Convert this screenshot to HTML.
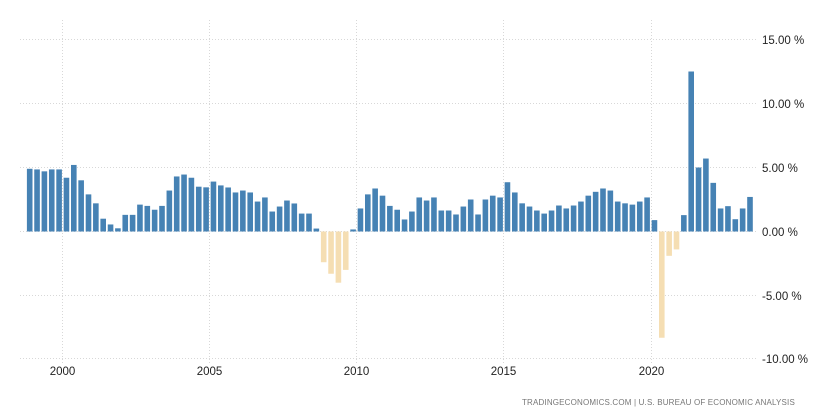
<!DOCTYPE html>
<html><head><meta charset="utf-8"><style>
html,body{margin:0;padding:0;background:#fff;}
svg{display:block;font-family:"Liberation Sans",Arial,sans-serif;}
</style></head><body>
<svg id="c" width="824" height="415" viewBox="0 0 824 415">
<g stroke="#d8d8d8" stroke-width="1" stroke-dasharray="1,2" fill="none">
<line x1="20" y1="39.5" x2="757" y2="39.5"/>
<line x1="20" y1="103.5" x2="757" y2="103.5"/>
<line x1="20" y1="167.5" x2="757" y2="167.5"/>
<line x1="20" y1="231.5" x2="757" y2="231.5"/>
<line x1="20" y1="295.5" x2="757" y2="295.5"/>
<line x1="20" y1="358.5" x2="757" y2="358.5"/>
<line x1="62.5" y1="20" x2="62.5" y2="365"/>
<line x1="209.5" y1="20" x2="209.5" y2="365"/>
<line x1="356.5" y1="20" x2="356.5" y2="365"/>
<line x1="503.5" y1="20" x2="503.5" y2="365"/>
<line x1="651.5" y1="20" x2="651.5" y2="365"/>
</g>
<g id="bars"></g>
<g fill="#222" font-size="11.5">
<text x="762" y="44">15.00 %</text>
<text x="762" y="108">10.00 %</text>
<text x="762" y="172">5.00 %</text>
<text x="762" y="236">0.00 %</text>
<text x="762" y="300">-5.00 %</text>
<text x="762" y="363">-10.00 %</text>
</g>
<g fill="#222" font-size="11.5" text-anchor="middle">
<text x="62.5" y="375">2000</text>
<text x="209.5" y="375">2005</text>
<text x="356.5" y="375">2010</text>
<text x="503.5" y="375">2015</text>
<text x="651.5" y="375">2020</text>
</g>
<text x="795" y="405" text-anchor="end" fill="#777" font-size="8" letter-spacing="0.2" textLength="273" lengthAdjust="spacing">TRADINGECONOMICS.COM | U.S. BUREAU OF ECONOMIC ANALYSIS</text>
</svg>
<script>
var v=[4.9,4.85,4.7,4.85,4.85,4.2,5.2,4.0,2.9,2.2,1.0,0.55,0.25,1.3,1.3,2.1,2.0,1.7,2.0,3.2,4.3,4.45,4.2,3.5,3.45,
3.9,3.6,3.44,3.05,3.2,3.05,2.34,2.66,1.56,1.95,2.42,2.19,1.4,1.4,0.23,-2.4,-3.3,-4.0,-3.0,0.16,1.8,2.9,3.36,2.8,2.0,1.7,0.94,1.56,
2.66,2.42,2.66,1.64,1.64,1.33,1.95,2.5,1.33,2.5,2.8,2.66,3.85,3.05,2.2,1.95,1.64,1.4,1.64,2.03,1.8,2.03,2.34,2.8,3.1,3.36,3.2,2.34,2.2,2.1,2.34,2.66,
0.89,-8.3,-1.9,-1.4,1.28,12.5,5.0,5.7,3.8,1.8,1.98,0.96,1.8,2.7];
var g=document.getElementById('bars'),s='',z=231.5,k=12.8;
for(var i=0;i<v.length;i++){var cx=29.7+i*7.35,h=Math.abs(v[i])*k,y=v[i]>=0?z-h:z;
s+='<rect x="'+(cx-2.8).toFixed(2)+'" y="'+y.toFixed(2)+'" width="5.6" height="'+h.toFixed(2)+'" fill="'+(v[i]>=0?'#4682b4':'#f5deb3')+'"/>';}
g.innerHTML=s;
</script>
</body></html>
